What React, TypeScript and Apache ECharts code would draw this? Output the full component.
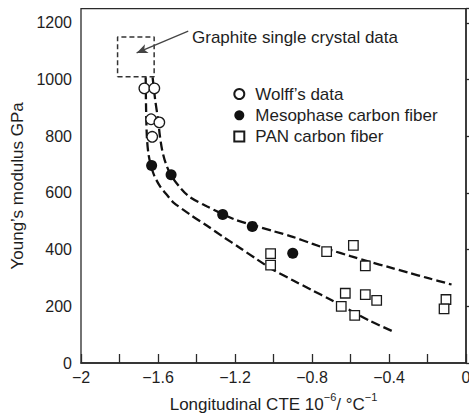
import React, { useEffect, useRef } from "react";
import * as echarts from "echarts";

const FONT = "Liberation Sans, Arial, Helvetica, sans-serif";
const INK = "#1e1e1e";

const xTicks = { min: -2, max: 0, step: 0.2 };
const yTicks = { min: 0, max: 1250, step: 200 };

const wolffData: [number, number][] = [
  [-1.671, 969], [-1.619, 969], [-1.636, 860], [-1.593, 849], [-1.63, 798],
];
const mesophaseData: [number, number][] = [
  [-1.633, 697], [-1.532, 664], [-1.264, 524], [-1.11, 482], [-0.9, 387],
];
const panData: [number, number][] = [
  [-1.015, 386], [-1.015, 345], [-0.724, 393], [-0.585, 415], [-0.523, 343],
  [-0.627, 246], [-0.523, 241], [-0.464, 221], [-0.648, 200], [-0.578, 168],
  [-0.104, 224], [-0.114, 191],
];
const upperCurve: [number, number][] = [
  [-1.628, 1008], [-1.615, 930], [-1.6, 860], [-1.59, 800], [-1.578, 750],
  [-1.56, 705], [-1.532, 662], [-1.48, 615], [-1.434, 585], [-1.347, 553],
  [-1.269, 527], [-1.2, 506], [-1.1, 485], [-1.0, 465], [-0.9, 445],
  [-0.8, 421], [-0.7, 398], [-0.6, 377], [-0.5, 357], [-0.4, 338],
  [-0.3, 319], [-0.2, 300], [-0.075, 277],
];
const lowerCurve: [number, number][] = [
  [-1.664, 1008], [-1.662, 900], [-1.658, 800], [-1.65, 740], [-1.638, 700],
  [-1.62, 662], [-1.59, 624], [-1.55, 590], [-1.521, 567], [-1.434, 524],
  [-1.347, 485], [-1.261, 445], [-1.174, 406], [-1.087, 366], [-1.0, 328],
  [-0.9, 292], [-0.8, 257], [-0.7, 222], [-0.6, 185], [-0.5, 149],
  [-0.375, 110],
];
const graphiteBox: [number, number][] = [
  [-1.81, 1010], [-1.62, 1010], [-1.62, 1150], [-1.81, 1150], [-1.81, 1010],
];
const arrowFrom: [number, number] = [-1.443, 1171];
const arrowTo: [number, number] = [-1.711, 1094];

const legendNames = ["Wolff\u2019s data", "Mesophase carbon fiber", "PAN carbon fiber"];
const annotationText = "Graphite single crystal data";

function fmtX(v: number): string {
  const k = Math.round(v / 0.4);
  if (Math.abs(k * 0.4 - v) > 1e-6) return "";
  if (Math.abs(v) < 1e-9) return "0";
  const a = Math.abs(v);
  return (v < 0 ? "\u2212" : "") + String(Math.round(a * 10) / 10);
}

export default function App() {
  const ref = useRef<HTMLDivElement>(null);
  useEffect(() => {
    const chart = echarts.init(ref.current!, null, { renderer: "svg" });
    chart.setOption({
      animation: false,
      backgroundColor: "#fff",
      textStyle: { fontFamily: FONT, color: INK },
      grid: {
        left: 81, right: 3, top: 8.7, bottom: 53,
        containLabel: false,
        outerBoundsMode: "none",
        show: true, borderColor: "#2a2a2a", borderWidth: 1.3, backgroundColor: "transparent",
      },
      legend: {
        orient: "vertical",
        left: 233.3,
        top: 85.5,
        padding: 0,
        itemGap: 4.3,
        itemWidth: 10,
        itemHeight: 10,
        data: legendNames,
        selectedMode: false,
        textStyle: { fontFamily: FONT, fontSize: 17, color: INK, lineHeight: 17, padding: [0, 0, 0, 6] },
      },
      xAxis: {
        type: "value",
        min: xTicks.min,
        max: xTicks.max,
        interval: xTicks.step,
        splitLine: { show: false },
        axisLine: { lineStyle: { color: "#2a2a2a", width: 1.5 } },
        axisTick: { inside: true, length: 9, lineStyle: { color: "#2a2a2a", width: 1.3 } },
        axisLabel: { formatter: fmtX, fontSize: 16, color: INK, fontFamily: FONT, margin: 6, showMinLabel: true, showMaxLabel: true },
        name: "{a|Longitudinal CTE 10}{s|\u22126}{a|/ \u00b0C}{s|\u22121}",
        nameLocation: "middle",
        nameGap: 30,
        nameTextStyle: {
          rich: {
            a: { fontSize: 17, fontFamily: FONT, color: INK, lineHeight: 22 },
            s: { fontSize: 11, fontFamily: FONT, color: INK, lineHeight: 22, padding: [0, 0, 14, 0] },
          },
        },
      },
      yAxis: {
        type: "value",
        min: yTicks.min,
        max: yTicks.max,
        interval: yTicks.step,
        splitLine: { show: false },
        axisLine: { lineStyle: { color: "#2a2a2a", width: 1.5 } },
        axisTick: { inside: true, length: 9, lineStyle: { color: "#2a2a2a", width: 1.3 } },
        axisLabel: {
          formatter: (v: number) => (Math.abs(v % 200) < 1e-6 ? String(v) : ""),
          fontSize: 16, color: INK, fontFamily: FONT, margin: 9,
        },
        name: "Young\u2019s modulus GPa",
        nameLocation: "middle",
        nameGap: 52,
        nameTextStyle: { fontSize: 17, fontFamily: FONT, color: INK },
      },
      graphic: [
        {
          type: "text",
          x: 192,
          y: 37.5,
          style: { text: annotationText, fontSize: 17, fontFamily: FONT, fill: INK, verticalAlign: "middle", align: "left" },
        },
      ],
      series: [
        {
          type: "line", name: "box", data: graphiteBox, showSymbol: false, symbol: "none",
          lineStyle: { color: "#333", width: 1.5, type: [5, 3] }, z: 2,
          markLine: {
            silent: true,
            symbol: ["none", "arrow"],
            symbolSize: [7, 11],
            label: { show: false },
            lineStyle: { color: "#444", width: 1.3, type: "solid" },
            data: [[{ coord: arrowFrom }, { coord: arrowTo }]],
          },
        },
        {
          type: "line", name: "upper", data: upperCurve, showSymbol: false, symbol: "none", smooth: 0.3,
          lineStyle: { color: "#111", width: 2.3, type: [9, 4] }, z: 2,
        },
        {
          type: "line", name: "lower", data: lowerCurve, showSymbol: false, symbol: "none", smooth: 0.3,
          lineStyle: { color: "#111", width: 2.3, type: [9, 4] }, z: 2,
        },
        {
          type: "scatter", name: legendNames[0], data: wolffData, symbol: "circle", symbolSize: 10.5,
          itemStyle: { color: "#fff", borderColor: "#1a1a1a", borderWidth: 1.3, opacity: 1 }, z: 5,
        },
        {
          type: "scatter", name: legendNames[1], data: mesophaseData, symbol: "circle", symbolSize: 11,
          itemStyle: { color: "#111", borderColor: "#111", borderWidth: 0, opacity: 1 }, z: 5,
        },
        {
          type: "scatter", name: legendNames[2], data: panData, symbol: "rect", symbolSize: 9.5,
          itemStyle: { color: "#fff", borderColor: "#1a1a1a", borderWidth: 1.3, opacity: 1 }, z: 5,
        },
      ],
    });
    return () => chart.dispose();
  }, []);
  return <div ref={ref} style={{ position: "absolute", left: 0, top: 0, width: 469, height: 416 }} />;
}
